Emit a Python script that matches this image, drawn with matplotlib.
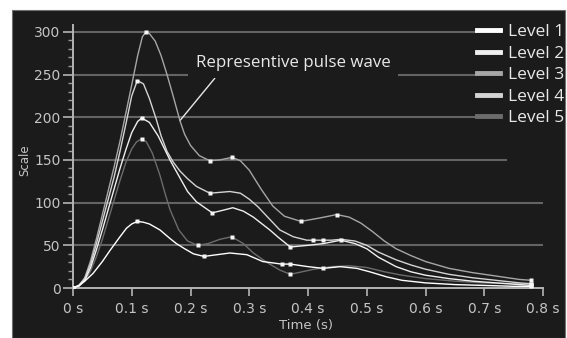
import numpy as np
import matplotlib
matplotlib.use("Agg")
import matplotlib.pyplot as plt
from matplotlib.lines import Line2D
from matplotlib.patches import Rectangle

# values
labels = ["Level 1", "Level 2", "Level 3", "Level 4", "Level 5"]
colors = ["#ffffff", "#efefef", "#a6a6a6", "#d4d4d4", "#6c6c6c"]

t_l1 = [0, 0.01, 0.02, 0.034, 0.05, 0.063, 0.08, 0.091, 0.1, 0.1095, 0.12, 0.13, 0.148, 0.165,
        0.176, 0.19, 0.205, 0.223, 0.245, 0.267, 0.296, 0.323, 0.355, 0.37, 0.40, 0.426, 0.455,
        0.483, 0.505, 0.534, 0.56, 0.60, 0.65, 0.70, 0.75, 0.78]
v_l1 = [0, 3, 8, 17, 31, 44, 60, 70, 75, 78, 77, 75, 68, 58,
        52, 46, 40, 37, 39, 41, 39, 31, 28, 28, 25, 23, 25,
        23, 19, 13, 9, 6, 4, 3, 2, 2]
m_l1 = [0.1095, 0.223, 0.355, 0.37, 0.426]

t_l2 = [0, 0.01, 0.02, 0.03, 0.04, 0.05, 0.06, 0.07, 0.08, 0.09, 0.10, 0.11, 0.117, 0.13, 0.145,
        0.155, 0.165, 0.182, 0.195, 0.21, 0.237, 0.255, 0.272, 0.29, 0.307, 0.32, 0.335, 0.35,
        0.37, 0.40, 0.426, 0.456, 0.48, 0.50, 0.52, 0.55, 0.575, 0.60, 0.64, 0.68, 0.72, 0.76, 0.78]
v_l2 = [0, 2, 9, 24, 45, 68, 92, 116, 140, 162, 182, 195, 199, 194, 178,
        164, 150, 129, 113, 101, 88, 91, 94, 90, 83, 76, 68, 59,
        48, 50, 52, 56, 52, 46, 36, 25, 19, 15, 11, 8, 6, 4, 3]
m_l2 = [0.117, 0.237, 0.37, 0.456]

t_l3 = [0, 0.01, 0.02, 0.03, 0.04, 0.05, 0.06, 0.07, 0.08, 0.09, 0.10, 0.11, 0.118, 0.124, 0.13,
        0.14, 0.15, 0.16, 0.17, 0.182, 0.19, 0.20, 0.215, 0.233, 0.25, 0.271, 0.285, 0.30, 0.32,
        0.34, 0.36, 0.388, 0.42, 0.449, 0.47, 0.49, 0.51, 0.53, 0.55, 0.575, 0.60, 0.64, 0.68,
        0.72, 0.76, 0.78]
v_l3 = [0, 3, 12, 32, 58, 86, 114, 142, 172, 205, 238, 272, 294, 300, 298,
        289, 272, 250, 226, 196, 180, 167, 155, 149, 150, 153, 149, 138, 116,
        96, 84, 78, 82, 86, 83, 76, 66, 55, 46, 38, 31, 23, 18,
        14, 10, 9]
m_l3 = [0.124, 0.233, 0.271, 0.388, 0.449]

t_l4 = [0, 0.01, 0.02, 0.03, 0.04, 0.05, 0.06, 0.07, 0.08, 0.09, 0.10, 0.1095, 0.12, 0.13, 0.142,
        0.15, 0.16, 0.17, 0.182, 0.195, 0.21, 0.233, 0.25, 0.267, 0.285, 0.30, 0.315, 0.33, 0.352,
        0.375, 0.398, 0.408, 0.426, 0.44, 0.456, 0.48, 0.50, 0.52, 0.55, 0.575, 0.60, 0.64, 0.68,
        0.72, 0.76, 0.78]
v_l4 = [0, 3, 11, 28, 52, 78, 104, 130, 160, 192, 225, 243, 239, 222, 197,
        178, 160, 148, 137, 128, 119, 111, 112, 113, 111, 104, 95, 84, 68,
        60, 56, 56, 56, 56, 57, 55, 50, 42, 33, 27, 22, 16, 12,
        9, 6, 5]
m_l4 = [0.1095, 0.233, 0.408, 0.426]

t_l5 = [0, 0.01, 0.02, 0.03, 0.04, 0.05, 0.06, 0.07, 0.08, 0.09, 0.10, 0.108, 0.117, 0.125, 0.135,
        0.148, 0.157, 0.165, 0.18, 0.195, 0.212, 0.23, 0.25, 0.27, 0.29, 0.307, 0.33, 0.352, 0.37,
        0.39, 0.41, 0.44, 0.47, 0.50, 0.53, 0.56, 0.60, 0.65, 0.70, 0.75, 0.78]
v_l5 = [0, 2, 8, 20, 37, 57, 80, 103, 126, 147, 163, 171, 175, 171, 158,
        132, 110, 92, 68, 55, 50, 52, 57, 60, 52, 41, 30, 21, 16,
        19, 22, 25, 26, 24, 19, 15, 11, 8, 6, 5, 5]
m_l5 = [0.117, 0.212, 0.27, 0.37]

series = [(t_l1, v_l1, m_l1), (t_l2, v_l2, m_l2), (t_l3, v_l3, m_l3),
          (t_l4, v_l4, m_l4), (t_l5, v_l5, m_l5)]
draw_order = [4, 2, 3, 1, 0]

xticks = [0, 0.1, 0.2, 0.3, 0.4, 0.5, 0.6, 0.7, 0.8]
xticklabels = ["0 s", "0.1 s", "0.2 s", "0.3 s", "0.4 s", "0.5 s", "0.6 s", "0.7 s", "0.8 s"]
yticks = [0, 50, 100, 150, 200, 250, 300]

BG = "#1b1b1b"
TXT = "#c4c4c4"

fig = plt.figure(figsize=(5.67, 3.38), dpi=100)
fig.patch.set_facecolor("white")
fig.add_artist(Rectangle((12 / 567, 0), 553 / 567, 328 / 338, transform=fig.transFigure,
                         facecolor=BG, edgecolor="#707070", lw=0.8, zorder=-5))

ax = fig.add_axes([73 / 567, 50 / 338, 470 / 567, 263 / 338])
ax.set_facecolor("none")
ax.set_xlim(0, 0.8)
ax.set_ylim(0, 308)

# horizontal grid lines, cut short where the legend sits
grid_ends = [0.8, 0.8, 0.739, 0.688, 0.688, 0.688]
ax.hlines(yticks[1:], 0, grid_ends, color="#646464", lw=1.5, zorder=1)

for i in draw_order:
    t, v, m = series[i]
    idx = [0] + [t.index(x) for x in m] + [len(t) - 1]
    ax.plot(t, v, color=colors[i], lw=1.0, zorder=3, solid_joinstyle="round",
            marker="s", markersize=3.2, markevery=idx,
            markerfacecolor="#f6f6f6", markeredgecolor="none")

for s in ["top", "right"]:
    ax.spines[s].set_visible(False)
for s in ["left", "bottom"]:
    ax.spines[s].set_color("#b4b4b4")
    ax.spines[s].set_linewidth(1.4)

ax.set_xticks(xticks)
ax.set_xticklabels(xticklabels)
ax.set_yticks(yticks)
ax.set_yticks(np.arange(0, 301, 10), minor=True)
ax.tick_params(axis="x", direction="out", length=6, width=1.2, color="#b4b4b4",
               labelcolor=TXT, labelsize=10, pad=4)
ax.tick_params(axis="y", which="major", direction="out", length=7, width=1.2,
               color="#b4b4b4", labelcolor=TXT, labelsize=10, pad=2)
ax.tick_params(axis="y", which="minor", direction="out", length=3.5, width=1.0,
               color="#9a9a9a")
for lab in ax.get_xticklabels() + ax.get_yticklabels():
    lab.set_family("DejaVu Sans")

fig.text(306 / 567, 1 - 326 / 338, "Time (s)", color=TXT, fontsize=9.5,
         family="DejaVu Sans", ha="center", va="center")
fig.text(25 / 567, 1 - 160 / 338, "Scale", color=TXT, fontsize=8.5,
         family="DejaVu Sans", ha="center", va="center", rotation=90)

ax.annotate("Representive pulse wave", xy=(0.182, 196), xytext=(0.209, 264),
            color="#e8e8e8", fontsize=12.2, family="Open Sans", ha="left", va="center",
            bbox=dict(boxstyle="square,pad=0.45", facecolor=BG, edgecolor="none"),
            arrowprops=dict(arrowstyle="-", color="#e8e8e8", lw=1.0,
                            relpos=(0.13, 0.0), shrinkA=0, shrinkB=0),
            zorder=2)

handles = [Line2D([], [], color=c, lw=3.5) for c in colors]
fig.legend(handles, labels, loc="upper left", bbox_to_anchor=(477 / 567, 1 - 24 / 338),
           frameon=False, borderpad=0, borderaxespad=0, handlelength=1.35,
           handletextpad=0.45, labelspacing=0.31,
           prop={"family": "Open Sans", "size": 12.5}, labelcolor="#e8e8e8")

fig.savefig("out.png", dpi=100, facecolor=fig.get_facecolor())
